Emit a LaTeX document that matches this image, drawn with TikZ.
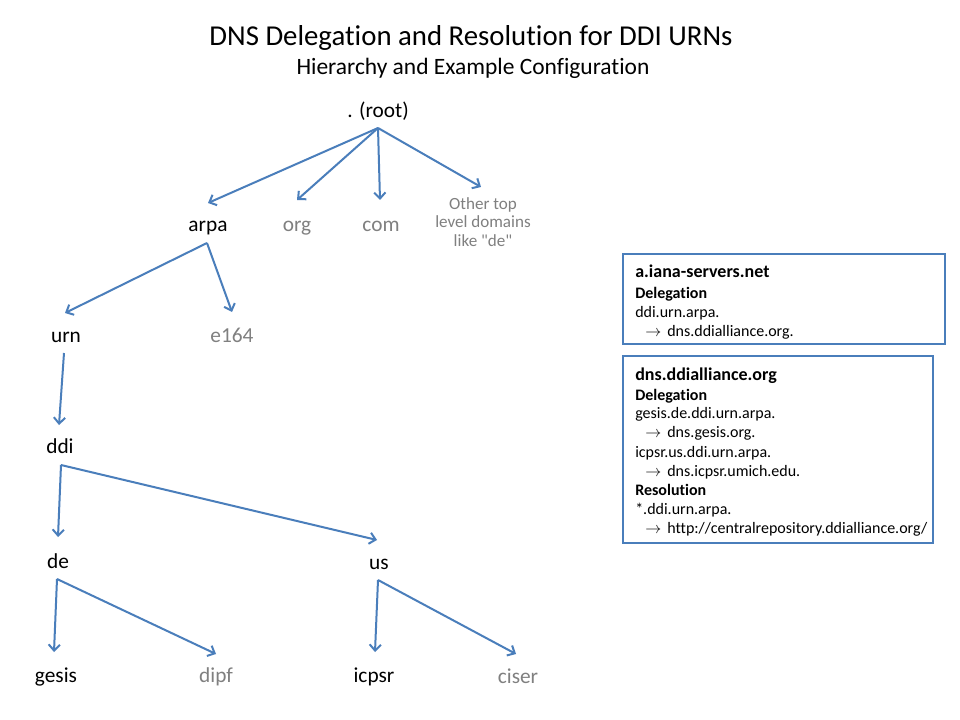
\documentclass[tikz,border=0pt]{standalone}
\usepackage{fontspec}
\setmainfont[Ligatures={NoCommon,TeXOff}]{Carlito}
\usetikzlibrary{arrows.meta}
\definecolor{linkblue}{HTML}{4A7EBB}
\definecolor{greytxt}{HTML}{808080}
\tikzset{
  lbl/.style={font=\fontsize{16}{19}\selectfont, anchor=base, inner sep=0pt},
  glbl/.style={lbl, text=greytxt},
  link/.style={draw=linkblue, line width=1.5pt, -{Straight Barb[length=4.5pt,width=8.5pt]}},
  infobox/.style={draw=linkblue, line width=1.5pt},
  bhead/.style={font=\fontsize{13.5}{16}\selectfont\bfseries, anchor=base west, inner sep=0pt},
  bsec/.style={font=\fontsize{12}{14}\selectfont\bfseries, anchor=base west, inner sep=0pt},
  bbody/.style={font=\fontsize{12}{14}\selectfont, anchor=base west, inner sep=0pt},
}
\begin{document}
\begin{tikzpicture}[x=0.75pt,y=-0.75pt]
\fill[white] (0,0) rectangle (960,720);
\useasboundingbox (0,0) rectangle (960,720);

% titles
\node[font=\fontsize{21.6}{25}\selectfont, anchor=base, inner sep=0pt] (title) at (471,46) {DNS Delegation and Resolution for DDI URNs};
\node[font=\fontsize{17.6}{20}\selectfont, anchor=base, inner sep=0pt] (subtitle) at (473,75) {Hierarchy and Example Configuration};

% tree labels
\node[lbl] (root) at (378,118) {. (root)};
\node[lbl] (arpa) at (208,232) {arpa};
\node[glbl] (org) at (297,232) {org};
\node[glbl] (com) at (381,232) {com};
\node[font=\fontsize{12.8}{13.9}\selectfont, text=greytxt, align=center, inner sep=0pt] (other) at (483,222) {Other top\\level domains\\like "de"};
\node[lbl] (urn) at (66,342) {urn};
\node[glbl] (e164) at (232,342) {e164};
\node[lbl] (ddi) at (60,453) {ddi};
\node[lbl] (de) at (58,568) {de};
\node[lbl] (us) at (379,569) {us};
\node[lbl] (gesis) at (56,682) {gesis};
\node[glbl] (dipf) at (216,682) {dipf};
\node[lbl] (icpsr) at (374,682) {icpsr};
\node[glbl] (ciser) at (518,683) {ciser};

% connector end points
\coordinate (root-o) at (378,128);
\coordinate (arpa-i) at (208,203);
\coordinate (org-i) at (297,200);
\coordinate (com-i) at (380,200);
\coordinate (other-i) at (481,187);
\coordinate (arpa-o) at (207,243);
\coordinate (urn-i) at (65,313);
\coordinate (e164-i) at (232,312);
\coordinate (urn-o) at (64,353);
\coordinate (ddi-i) at (59,425);
\coordinate (ddi-o) at (61,465);
\coordinate (de-i) at (58,537);
\coordinate (us-i) at (377,540);
\coordinate (de-o) at (57,579);
\coordinate (gesis-i) at (54,652);
\coordinate (dipf-i) at (216,654);
\coordinate (us-o) at (378,580);
\coordinate (icpsr-i) at (375,652);
\coordinate (ciser-i) at (516,654);

% connectors
\draw[link] (root-o) -- (arpa-i);
\draw[link] (root-o) -- (org-i);
\draw[link] (root-o) -- (com-i);
\draw[link] (root-o) -- (other-i);
\draw[link] (arpa-o) -- (urn-i);
\draw[link] (arpa-o) -- (e164-i);
\draw[link] (urn-o) -- (ddi-i);
\draw[link] (ddi-o) -- (de-i);
\draw[link] (ddi-o) -- (us-i);
\draw[link] (de-o) -- (gesis-i);
\draw[link] (de-o) -- (dipf-i);
\draw[link] (us-o) -- (icpsr-i);
\draw[link] (us-o) -- (ciser-i);

% box 1
\draw[infobox] (623,254) rectangle (945,344);
\node[bhead] (b1t) at (635,277) {a.iana-servers.net};
\node[bsec] (b1s) at (635,298) {Delegation};
\node[bbody] (b1a) at (635,317) {ddi.urn.arpa.};
\node[bbody] (b1ar) at (645,336) {$\rightarrow$};
\node[bbody] (b1b) at (667,336) {dns.ddialliance.org.};

% box 2
\draw[infobox] (623,356) rectangle (933,543);
\node[bhead] (b2t) at (635,380) {dns.ddialliance.org};
\node[bsec] (b2s) at (635,400) {Delegation};
\node[bbody] (b2a) at (635,418) {gesis.de.ddi.urn.arpa.};
\node[bbody] (b2ar1) at (645,437) {$\rightarrow$};
\node[bbody] (b2b) at (667,437) {dns.gesis.org.};
\node[bbody] (b2c) at (635,457) {icpsr.us.ddi.urn.arpa.};
\node[bbody] (b2ar2) at (645,476) {$\rightarrow$};
\node[bbody] (b2d) at (667,476) {dns.icpsr.umich.edu.};
\node[bsec] (b2r) at (635,495) {Resolution};
\node[bbody] (b2e) at (635,514) {*.ddi.urn.arpa.};
\node[bbody] (b2ar3) at (645,533) {$\rightarrow$};
\node[bbody] (b2f) at (667,533) {http://centralrepository.ddialliance.org/};
\end{tikzpicture}
\end{document}
